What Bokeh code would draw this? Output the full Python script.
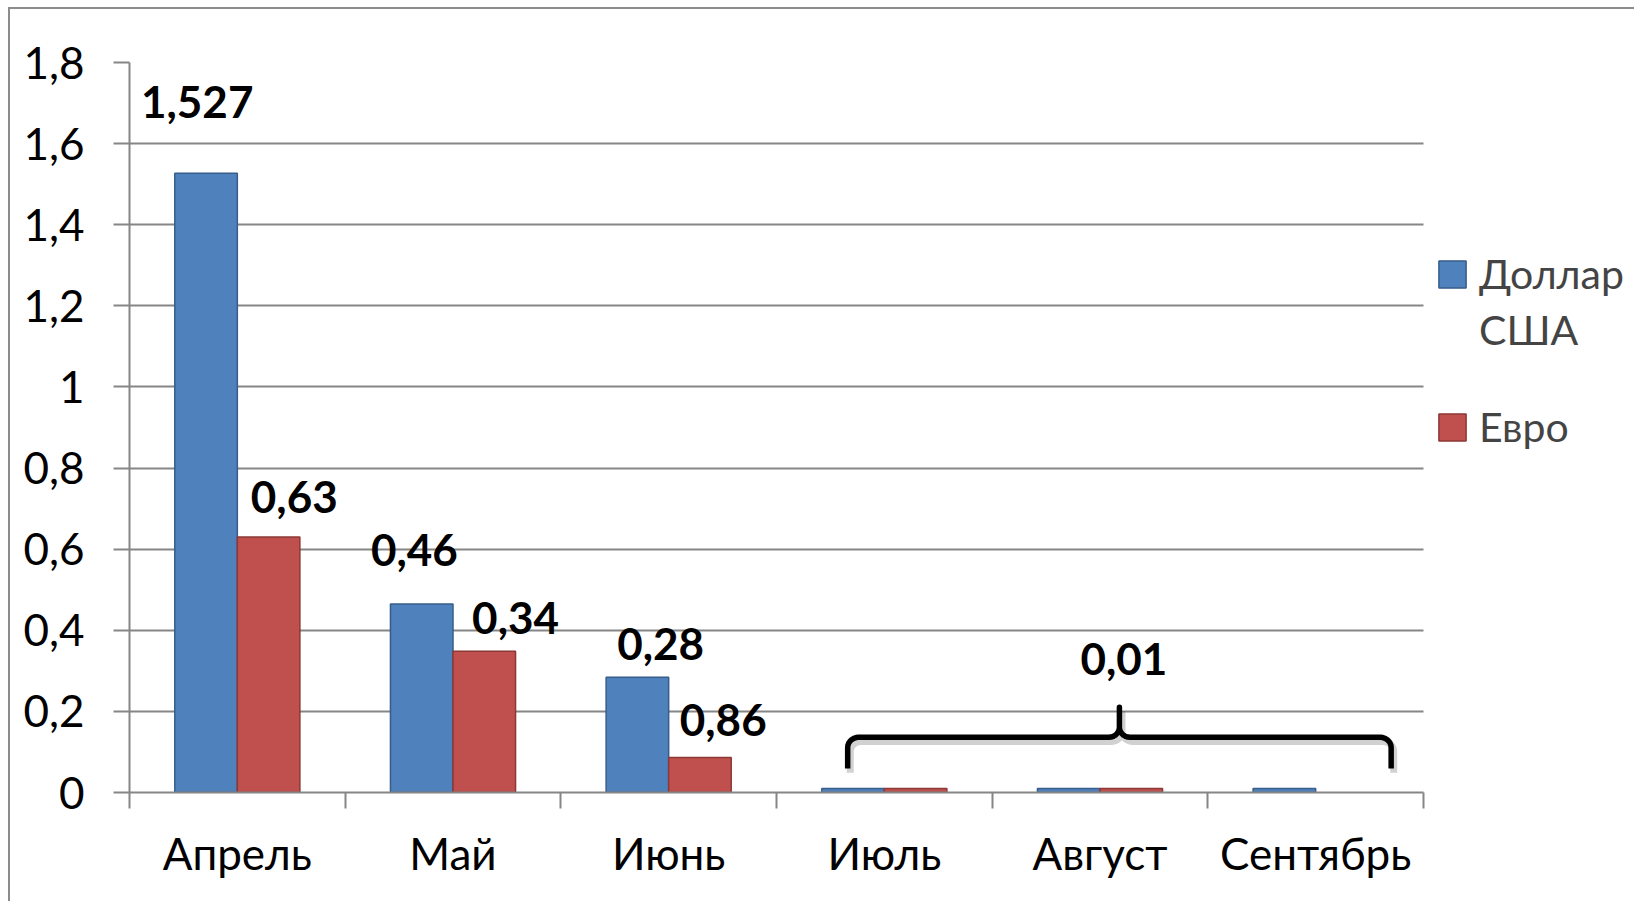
import numpy as np
from bokeh.plotting import figure
from bokeh.models import (Range1d, FixedTicker, Legend, LegendItem, ColumnDataSource,
                          BoxAnnotation)
from bokeh.core.properties import value
from bokeh.embed import file_html
from bokeh.resources import INLINE

# ---- data ----
months = ["Апрель", "Май", "Июнь", "Июль", "Август", "Сентябрь"]
usd = [1.527, 0.465, 0.284, 0.01, 0.01, 0.01]
eur = [0.63, 0.348, 0.086, 0.01, 0.01, float("nan")]
series_names = ["Доллар", "США", "Евро"]
y_ticks = [0, 0.2, 0.4, 0.6, 0.8, 1.0, 1.2, 1.4, 1.6, 1.8]
y_tick_labels = ["0", "0,2", "0,4", "0,6", "0,8", "1", "1,2", "1,4", "1,6", "1,8"]
label_texts = ["1,527", "0,63", "0,46", "0,34", "0,28", "0,86", "0,01"]
# label anchor positions (x in category units, y in value units)
label_x = [0.314, 0.764, 1.321, 1.790, 2.463, 2.753, 4.611]
label_y = [1.702, 0.729, 0.598, 0.431, 0.367, 0.180, 0.329]

FONT = "Lato"
FS = "44px"
LEG_FS = "41px"
GRID = "#868686"
BLUE, BLUE_LINE = "#4F81BD", "#385D8A"
RED, RED_LINE = "#C0504D", "#8C3836"

W, H = 1626, 894
FL, FT, FB = 119, 53, 783   # frame left/top/bottom in canvas px
AX_RIGHT = 1413             # where the category axis ends (canvas px)
n = len(months)
x_end = n * (W - FL) / (AX_RIGHT - FL)   # frame extends under the legend

p = figure(width=W, height=H, output_backend="svg", toolbar_location=None,
           x_range=Range1d(0, x_end), y_range=Range1d(0, 1.8),
           min_border_left=FL, min_border_right=0,
           min_border_top=FT, min_border_bottom=H - FB)
p.outline_line_color = None
p.background_fill_color = "white"
p.border_fill_color = "white"
p.styles = {"margin-left": "8px", "margin-top": "7px",
            "border-top": "2px solid #8c8c8c", "border-left": "2px solid #8c8c8c"}

centers = np.arange(n) + 0.5
bw = 0.29
src_u = ColumnDataSource(dict(x=centers - bw / 2, top=usd))
src_e = ColumnDataSource(dict(x=centers + bw / 2, top=eur))
rb = p.vbar(x="x", top="top", width=bw, bottom=0, source=src_u,
            fill_color=BLUE, line_color=BLUE_LINE, line_width=1.5)
rr = p.vbar(x="x", top="top", width=bw, bottom=0, source=src_e,
            fill_color=RED, line_color=RED_LINE, line_width=1.5)
# invisible renderer for the legend's extra lines
rblank = p.vbar(x=[], top=[], width=bw, fill_alpha=0, line_alpha=0)

# mask gridlines to the right of the category area (legend zone)
p.add_layout(BoxAnnotation(left=n, fill_color="white", fill_alpha=1.0,
                           line_color=None, level="underlay"))

# value labels
p.text(x=label_x, y=label_y, text=label_texts, text_font=value(FONT),
       text_font_style="bold", text_font_size=FS, text_color="black",
       text_align="center", text_baseline="middle")

# brace over July-September
bx0, bx1, bxm = 3.33, 5.85, 4.59
by0, byb, byp = 0.059, 0.136, 0.21
rx, ry = 0.05, 0.025
t = np.linspace(0, np.pi / 2, 8)
left_corner_x = bx0 + rx * (1 - np.cos(t))
left_corner_y = (byb - ry) + ry * np.sin(t)
mid_l_x = (bxm - rx) + rx * np.sin(t)
mid_l_y = byb + ry * (1 - np.cos(t))
bxs = np.concatenate([[bx0], left_corner_x, mid_l_x, [bxm],
                      (2 * bxm - mid_l_x)[::-1], (2 * bxm - left_corner_x)[::-1], [bx1]])
bys = np.concatenate([[by0], left_corner_y, mid_l_y, [byp],
                      mid_l_y[::-1], left_corner_y[::-1], [by0]])
p.line(bxs + 0.012, bys - 0.01, line_color="#000000", line_alpha=0.18, line_width=7)
p.line(bxs, bys, line_color="black", line_width=5.5, line_join="round", line_cap="butt")

# axes
xa = p.xaxis[0]
xa.bounds = (0, n)
xa.ticker = FixedTicker(ticks=list(centers), minor_ticks=list(range(n + 1)))
xa.major_label_overrides = {float(c): m for c, m in zip(centers, months)}
xa.major_tick_line_color = None
xa.major_tick_out = 0
xa.major_tick_in = 0
xa.minor_tick_line_color = GRID
xa.minor_tick_line_width = 2
xa.minor_tick_out = 16
xa.minor_tick_in = 0
xa.axis_line_color = GRID
xa.axis_line_width = 2
xa.major_label_text_font = FONT
xa.major_label_text_font_size = FS
xa.major_label_text_color = "black"
xa.major_label_standoff = 18

ya = p.yaxis[0]
ya.ticker = FixedTicker(ticks=y_ticks)
ya.major_label_overrides = {float(v): s for v, s in zip(y_ticks, y_tick_labels)}
ya.major_tick_out = 16
ya.major_tick_in = 0
ya.major_tick_line_color = GRID
ya.major_tick_line_width = 2
ya.minor_tick_line_color = None
ya.axis_line_color = GRID
ya.axis_line_width = 2
ya.major_label_text_font = FONT
ya.major_label_text_font_size = FS
ya.major_label_text_color = "black"
ya.major_label_standoff = 29

p.xgrid.grid_line_color = None
p.ygrid.grid_line_color = GRID
p.ygrid.grid_line_width = 2
p.ygrid.ticker = FixedTicker(ticks=y_ticks)

legend = Legend(items=[LegendItem(label=series_names[0], renderers=[rb]),
                       LegendItem(label=series_names[1], renderers=[rblank]),
                       LegendItem(label=" ", renderers=[rblank]),
                       LegendItem(label=series_names[2], renderers=[rr])],
                label_text_font=FONT, label_text_font_size=LEG_FS,
                glyph_width=34, glyph_height=34, padding=0, margin=0, spacing=7,
                border_line_color=None, background_fill_alpha=0,
                label_standoff=10, label_height=30,
                location=(1306, 341))
p.add_layout(legend)

open("out.html", "w").write(file_html(p, INLINE))
